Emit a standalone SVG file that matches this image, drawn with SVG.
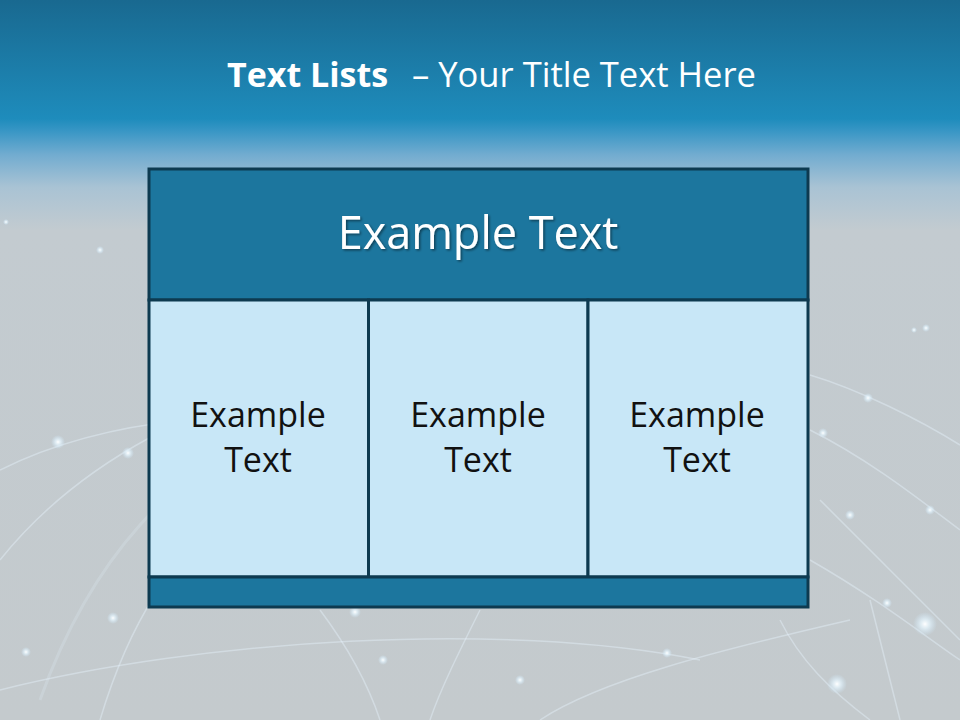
<svg xmlns="http://www.w3.org/2000/svg" width="960" height="720" viewBox="0 0 960 720">
<defs>
<linearGradient id="bg" x1="0" y1="0" x2="0" y2="1">
<stop offset="0" stop-color="#196990"/>
<stop offset="0.165" stop-color="#1e8cbc"/>
<stop offset="0.18" stop-color="#3595c4"/>
<stop offset="0.215" stop-color="#72acd0"/>
<stop offset="0.26" stop-color="#a9c3d4"/>
<stop offset="0.32" stop-color="#c3cbd0"/>
<stop offset="1" stop-color="#c4cacd"/>
</linearGradient>
<radialGradient id="dot">
<stop offset="0" stop-color="#ffffff" stop-opacity="1"/>
<stop offset="0.4" stop-color="#e6f6ff" stop-opacity="0.7"/>
<stop offset="1" stop-color="#d0ecff" stop-opacity="0"/>
</radialGradient>
<filter id="sh" x="-5%" y="-20%" width="110%" height="140%">
<feDropShadow dx="1.5" dy="1.5" stdDeviation="1" flood-color="#000" flood-opacity="0.45"/>
</filter>
<style>
.arc{fill:none;stroke:#e8f6ff;stroke-opacity:0.4;stroke-width:1.5}
.arcb{fill:none;stroke:#e8f6ff;stroke-opacity:0.2;stroke-width:3}
.box{stroke:#0d3a50;stroke-width:3}
.dark{fill:#1c769e}
.light{fill:#c8e7f7}
.cell{font-family:"Open Sans","Noto Sans",sans-serif;font-size:34px;fill:#111111;text-anchor:middle}
.head{font-family:"Open Sans","Noto Sans",sans-serif;font-size:45px;fill:#ffffff;text-anchor:middle}
.title{font-family:"Open Sans","Noto Sans",sans-serif;font-size:34px;fill:#ffffff}
</style>
</defs>
<rect x="0" y="0" width="960" height="720" fill="url(#bg)"/>
<g id="globe">
<path class="arc" d="M0,470 C100,420 250,400 420,430"/>
<path class="arc" d="M0,560 C80,460 200,400 360,360"/>
<path class="arcb" d="M40,700 C90,560 170,470 300,410"/>
<path class="arc" d="M100,720 C130,620 170,560 240,500"/>
<path class="arc" d="M810,375 C860,390 920,420 960,445"/>
<path class="arc" d="M810,430 C870,460 920,500 960,530"/>
<path class="arc" d="M820,500 C880,560 930,610 960,640"/>
<path class="arc" d="M810,560 C880,600 930,640 960,660"/>
<path class="arc" d="M870,600 C880,640 890,680 900,720"/>
<path class="arc" d="M540,720 C600,680 720,650 850,620"/>
<path class="arc" d="M0,690 C200,640 500,620 700,660"/>
<path class="arc" d="M780,620 C800,660 830,690 870,720"/>
<path class="arc" d="M320,610 C350,650 370,690 380,720"/>
<path class="arc" d="M480,610 C460,650 440,690 430,720"/>
<circle cx="58" cy="442" r="7" fill="url(#dot)"/>
<circle cx="128" cy="453" r="6" fill="url(#dot)"/>
<circle cx="113" cy="618" r="6" fill="url(#dot)"/>
<circle cx="26" cy="652" r="5" fill="url(#dot)"/>
<circle cx="355" cy="612" r="6" fill="url(#dot)"/>
<circle cx="383" cy="660" r="5" fill="url(#dot)"/>
<circle cx="520" cy="680" r="5" fill="url(#dot)"/>
<circle cx="868" cy="398" r="5" fill="url(#dot)"/>
<circle cx="823" cy="433" r="5" fill="url(#dot)"/>
<circle cx="930" cy="510" r="5" fill="url(#dot)"/>
<circle cx="850" cy="515" r="5" fill="url(#dot)"/>
<circle cx="887" cy="603" r="5" fill="url(#dot)"/>
<circle cx="925" cy="624" r="12" fill="url(#dot)"/>
<circle cx="837" cy="684" r="10" fill="url(#dot)"/>
<circle cx="667" cy="653" r="5" fill="url(#dot)"/>
<circle cx="926" cy="328" r="4" fill="url(#dot)"/>
<circle cx="914" cy="330" r="3" fill="url(#dot)"/>
<circle cx="100" cy="250" r="4" fill="url(#dot)"/>
<circle cx="6" cy="222" r="3" fill="url(#dot)"/>
</g>
<g id="title">
<text class="title" x="227" y="87" font-weight="bold">Text Lists</text>
<text class="title" x="412" y="87" textLength="344" lengthAdjust="spacingAndGlyphs">– Your Title Text Here</text>
</g>
<g id="connectors"></g>
<g id="header">
<rect class="box dark" x="149" y="169" width="659" height="131"/>
<text class="head" x="478" y="249" filter="url(#sh)">Example Text</text>
</g>
<g id="cell1">
<rect class="box light" x="149" y="300" width="219.5" height="277"/>
<text class="cell" x="258" y="427">Example</text>
<text class="cell" x="258" y="472">Text</text>
</g>
<g id="cell2">
<rect class="box light" x="368.5" y="300" width="219.5" height="277"/>
<text class="cell" x="478" y="427">Example</text>
<text class="cell" x="478" y="472">Text</text>
</g>
<g id="cell3">
<rect class="box light" x="588" y="300" width="220" height="277"/>
<text class="cell" x="697" y="427">Example</text>
<text class="cell" x="697" y="472">Text</text>
</g>
<g id="footer">
<rect class="box dark" x="149" y="577" width="659" height="30"/>
</g>
</svg>
